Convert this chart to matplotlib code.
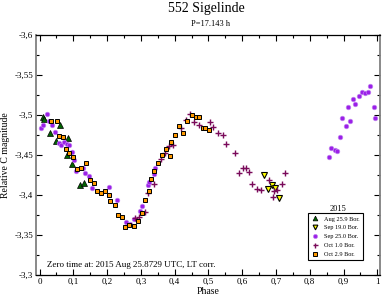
import matplotlib
matplotlib.use("Agg")
import matplotlib.pyplot as plt
from matplotlib.ticker import MultipleLocator, FuncFormatter

plt.rcParams['font.family'] = ['Liberation Serif', 'DejaVu Serif']

# Aug 25.9 Bor.
aug_phase = [0.0095, 0.014, 0.031, 0.048, 0.060, 0.085, 0.081, 0.097, 0.120, 0.131]
aug_mag = [-3.497, -3.495, -3.477, -3.467, -3.4875, -3.471, -3.450, -3.439, -3.413, -3.415]

# Sep 19.0 Bor.
sep19_phase = [0.665, 0.676, 0.687, 0.698, 0.710]
sep19_mag = [-3.425, -3.408, -3.412, -3.409, -3.3965]

# Sep 25.0 Bor.
sep25_phase = [0.005, 0.010, 0.021, 0.027, 0.037, 0.047, 0.059, 0.064, 0.073, 0.080,
               0.087, 0.095, 0.102, 0.108, 0.129, 0.136, 0.146, 0.156, 0.206, 0.207,
               0.228, 0.256, 0.268, 0.280, 0.298, 0.304, 0.321, 0.324, 0.338, 0.343,
               0.858, 0.863, 0.875, 0.881, 0.890, 0.896, 0.907, 0.912, 0.918, 0.929,
               0.935, 0.945, 0.956, 0.963, 0.972, 0.978, 0.989, 0.994]
sep25_mag = [-3.484, -3.4875, -3.501, -3.492, -3.488, -3.479, -3.465, -3.4625, -3.466, -3.464,
             -3.4625, -3.454, -3.444, -3.430, -3.434, -3.428, -3.424, -3.409, -3.410, -3.400,
             -3.394, -3.366, -3.364, -3.370, -3.380, -3.386, -3.4125, -3.416, -3.426, -3.434,
             -3.448, -3.459, -3.456, -3.455, -3.472, -3.496, -3.486, -3.510, -3.493, -3.520,
             -3.514, -3.524, -3.529, -3.528, -3.529, -3.536, -3.510, -3.496]

# Oct 1.0 Bor.
oct1_phase = [0.283, 0.294, 0.311, 0.322, 0.340, 0.361, 0.372, 0.382, 0.394, 0.418,
              0.433, 0.444, 0.456, 0.471, 0.504, 0.515, 0.527, 0.542, 0.553, 0.579,
              0.590, 0.602, 0.612, 0.619, 0.629, 0.645, 0.656, 0.679, 0.690, 0.695,
              0.704, 0.717, 0.727]
oct1_mag = [-3.371, -3.372, -3.379, -3.403, -3.414, -3.445, -3.452, -3.461, -3.463, -3.484,
            -3.494, -3.501, -3.491, -3.488, -3.491, -3.485, -3.477, -3.475, -3.464, -3.452,
            -3.428, -3.434, -3.434, -3.429, -3.414, -3.4075, -3.4065, -3.419, -3.397, -3.405,
            -3.406, -3.414, -3.427]

# Oct 2.9 Bor.
oct2_phase = [0.035, 0.051, 0.058, 0.068, 0.078, 0.088, 0.100, 0.111, 0.124, 0.139,
              0.150, 0.161, 0.171, 0.182, 0.194, 0.205, 0.210, 0.222, 0.233, 0.243,
              0.253, 0.266, 0.281, 0.291, 0.303, 0.313, 0.324, 0.330, 0.340, 0.352,
              0.364, 0.374, 0.386, 0.390, 0.401, 0.413, 0.424, 0.438, 0.451, 0.462,
              0.473, 0.483, 0.490, 0.501]
oct2_mag = [-3.492, -3.493, -3.474, -3.4725, -3.457, -3.453, -3.448, -3.433, -3.434, -3.440,
            -3.419, -3.415, -3.405, -3.403, -3.405, -3.400, -3.392, -3.387, -3.375, -3.372,
            -3.360, -3.362, -3.361, -3.3675, -3.377, -3.394, -3.405, -3.420, -3.430, -3.440,
            -3.450, -3.458, -3.449, -3.466, -3.475, -3.486, -3.478, -3.492, -3.500, -3.497,
            -3.497, -3.484, -3.484, -3.481]

fig = plt.figure(figsize=(3.82, 2.99), dpi=100)
ax = fig.add_axes([36 / 382, 1 - 275 / 299, 344 / 382, 240 / 299])

ax.plot(aug_phase, aug_mag, ls='none', marker='^', ms=3.8, mfc='#006400', mec='black', mew=0.5,
        label='Aug 25.9 Bor.')
ax.plot(sep19_phase, sep19_mag, ls='none', marker='v', ms=3.8, mfc='#ffff00', mec='black', mew=0.8,
        label='Sep 19.0 Bor.')
ax.plot(sep25_phase, sep25_mag, ls='none', marker='o', ms=3.3, mfc='#9b1fe8', mec='#c080f0', mew=0.5,
        label='Sep 25.0 Bor.')
ax.plot(oct1_phase, oct1_mag, ls='none', marker='+', ms=4.0, mec='#7a0a5a', mew=1.0,
        label='Oct 1.0 Bor.')
ax.plot(oct2_phase, oct2_mag, ls='none', marker='s', ms=3.1, mfc='#ff9900', mec='black', mew=0.7,
        label='Oct 2.9 Bor.')

ax.set_xlim(-0.0105, 1.008)
ax.set_ylim(-3.3, -3.6)
ax.xaxis.set_major_locator(MultipleLocator(0.1))
ax.xaxis.set_minor_locator(MultipleLocator(0.05))
ax.yaxis.set_major_locator(MultipleLocator(0.05))
ax.yaxis.set_minor_locator(MultipleLocator(0.025))

comma = FuncFormatter(lambda v, p: ('%g' % round(v, 3)).replace('.', ','))
ax.xaxis.set_major_formatter(comma)
ax.yaxis.set_major_formatter(comma)

ax.tick_params(which='both', direction='in', top=True, right=True, labelsize=6.5)
ax.tick_params(which='major', length=4, width=0.8)
ax.tick_params(which='minor', length=2.2, width=0.8)
ax.tick_params(axis='x', pad=2)
ax.tick_params(axis='y', pad=2)
for side in ['left', 'right']:
    ax.spines[side].set_color('#808080')
    ax.spines[side].set_linewidth(1.3)
for side in ['top', 'bottom']:
    ax.spines[side].set_linewidth(0.9)

ax.set_xlabel('Phase', fontsize=7, labelpad=1)
ax.set_ylabel('Relative C magnitude', fontsize=7, labelpad=3)

fig.text(0.54, 0.97, '552 Sigelinde', ha='center', va='center', fontsize=10)
fig.text(0.552, 0.92, 'P=17.143 h', ha='center', va='center', fontsize=6)

ax.text(0.032, 0.042, 'Zero time at: 2015 Aug 25.8729 UTC, LT corr.', transform=ax.transAxes,
        fontsize=6.5, va='center', ha='left')

leg = ax.legend(loc='lower right', bbox_to_anchor=(0.959, 0.05), fontsize=4.5, frameon=True,
                fancybox=False, edgecolor='black', framealpha=1, handlelength=1.2,
                handletextpad=0.8, borderpad=0.5, labelspacing=0.55, markerscale=0.9)
leg.get_frame().set_linewidth(0.8)
ax.text(0.878, 0.275, '2015', transform=ax.transAxes, fontsize=6, ha='center', va='center')

fig.savefig('out.png', dpi=100)
